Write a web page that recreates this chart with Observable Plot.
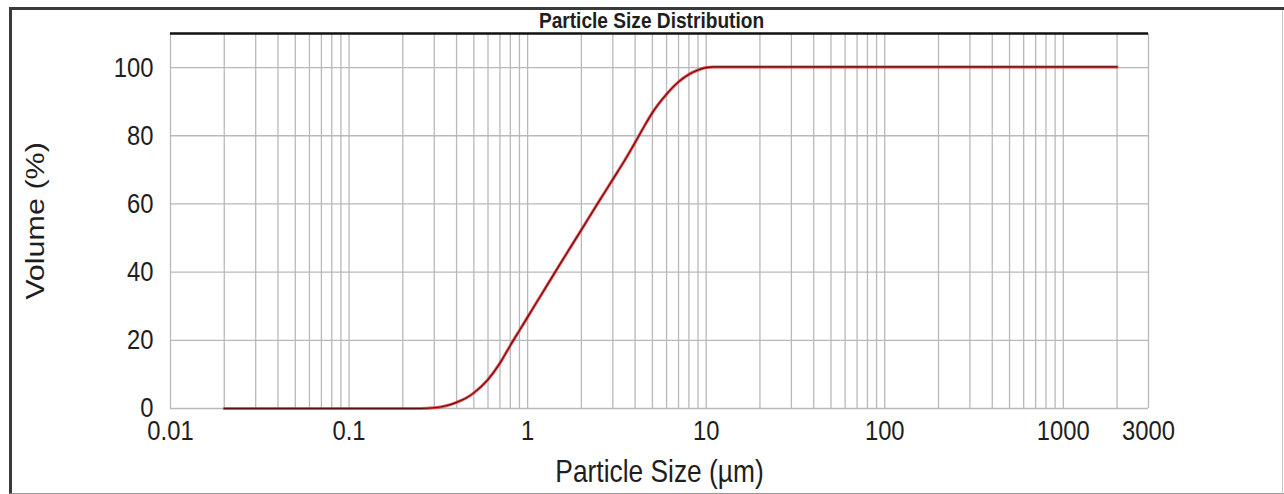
<!DOCTYPE html>
<html>
<head>
<meta charset="utf-8">
<script src="https://cdn.jsdelivr.net/npm/d3@7"></script>
<script src="https://cdn.jsdelivr.net/npm/@observablehq/plot@0.6"></script>
<style>
  html, body { margin: 0; padding: 0; background: #fff; }
  #wrap { position: relative; width: 1284px; height: 494px; overflow: hidden; }
  #frame { position: absolute; left: 9px; top: 7px; width: 1280px; height: 487px;
           border-left: 3px solid #3a3a3a; border-top: 3px solid #3a3a3a;
           border-bottom: 1px solid #9a9a9a; box-sizing: border-box; }
  #edge { position: absolute; left: 1282px; top: 10px; width: 1px; height: 484px; background: #c8c8c8; }
  #chart { position: absolute; left: 0; top: 0; }
</style>
</head>
<body>
<div id="wrap"><div id="frame"></div><div id="edge"></div><div id="chart"></div></div>
<script>
// Particle size (µm) and cumulative volume (%)
const sizes   = [0.02, 0.05, 0.1, 0.2, 0.25, 0.3, 0.35, 0.4, 0.45, 0.5, 0.6, 0.7, 0.8, 0.9, 1, 1.2, 1.5, 2, 2.5, 3, 3.5, 4, 4.5, 5, 6, 7, 8, 9, 10, 11, 20, 100, 1000, 2000];
const volumes = [0, 0, 0, 0, 0, 0.2, 0.8, 1.8, 3, 4.6, 8.5, 13.3, 18.5, 22.9, 26.8, 33.6, 41.9, 52.4, 60.6, 67.2, 72.8, 78, 82.8, 86.8, 92.2, 95.8, 98, 99.3, 100, 100.2, 100.2, 100.2, 100.2, 100.2];

const xTickValues = [0.01, 0.1, 1, 10, 100, 1000, 3000];
const xTickLabels = ["0.01", "0.1", "1", "10", "100", "1000", "3000"];
const yTickValues = [0, 20, 40, 60, 80, 100];
const gridX = [0.01, 0.02, 0.03, 0.04, 0.05, 0.06, 0.07, 0.08, 0.09,
               0.1, 0.2, 0.3, 0.4, 0.5, 0.6, 0.7, 0.8, 0.9,
               1, 2, 3, 4, 5, 6, 7, 8, 9,
               10, 20, 30, 40, 50, 60, 70, 80, 90,
               100, 200, 300, 400, 500, 600, 700, 800, 900,
               1000, 2000, 3000];

const data = sizes.map((s, i) => ({size: s, volume: volumes[i]}));
const xTicks = xTickValues.map((v, i) => ({value: v, label: xTickLabels[i]}));

const sans = "'Liberation Sans', Arial, Helvetica, sans-serif";
const titleText = "Particle Size Distribution";
const xLabelText = "Particle Size (µm)";
const yLabelText = "Volume (%)";

const chart = Plot.plot({
  width: 1284,
  height: 494,
  marginLeft: 170,
  marginRight: 136,
  marginTop: 33,
  marginBottom: 86,
  style: {fontFamily: sans, fontSize: "28px", color: "#1e1e1e", background: "transparent", overflow: "visible"},
  x: {type: "log", domain: [0.01, 3000], axis: null},
  y: {domain: [0, 110]},
  marks: [
    Plot.ruleX(gridX, {stroke: "#b9b9b9", strokeWidth: 1.3}),
    Plot.ruleY(yTickValues, {stroke: "#b9b9b9", strokeWidth: 1.3}),
    Plot.ruleY([110], {stroke: "#111", strokeWidth: 2.5}),
    Plot.line(data, {x: "size", y: "volume", curve: "monotone-x", stroke: "#e8252b", strokeWidth: 3, strokeOpacity: 0.8}),
    Plot.line(data, {x: "size", y: "volume", curve: "monotone-x", stroke: "#5a1010", strokeWidth: 1.1}),
    Plot.text(xTicks, {x: "value", text: "label", frameAnchor: "bottom", lineAnchor: "top", textAnchor: "middle", dy: 12, fontSize: 28, fill: "#1e1e1e"}),
    Plot.axisY({ticks: yTickValues, tickSize: 0, tickPadding: 17, label: null, fontSize: 28}),
    Plot.text([titleText], {frameAnchor: "top", lineAnchor: "bottom", textAnchor: "middle", dy: -6, dx: -8, fontWeight: "bold", fontSize: 22.5, fill: "#1e1e1e"}),
    Plot.text([xLabelText], {frameAnchor: "bottom", lineAnchor: "middle", textAnchor: "middle", dy: 64, fontSize: 31, fill: "#1e1e1e"}),
    Plot.text([yLabelText], {frameAnchor: "left", rotate: -90, textAnchor: "middle", lineAnchor: "middle", dx: -135, fontSize: 30.5, fill: "#1e1e1e"})
  ]
});

// The reference uses a narrow face; condense glyphs horizontally (rotated label: across its thickness).
d3.select(chart).selectAll("text").each(function() {
  const el = this;
  const t = el.getAttribute("transform") || "";
  const x = parseFloat(el.getAttribute("x")) || 0;
  const isY = el.textContent === yLabelText;
  const sc = isY ? "scale(1,0.86)" : "scale(0.85,1)";
  el.setAttribute("transform", `${t} translate(${x},0) ${sc} translate(${-x},0)`.trim());
});

document.getElementById("chart").appendChild(chart);
</script>
</body>
</html>
